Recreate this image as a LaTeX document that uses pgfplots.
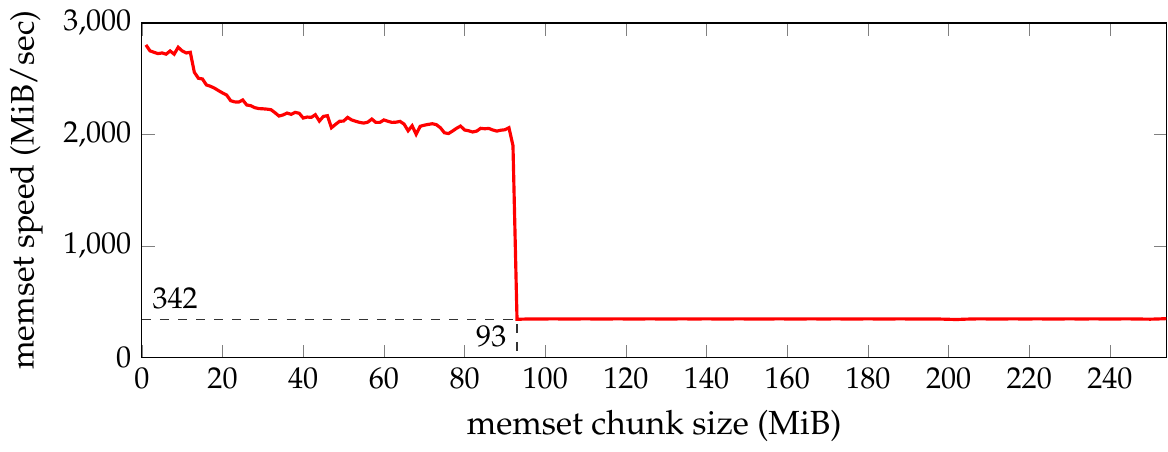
\documentclass[border=0pt]{standalone}
\usepackage[T1]{fontenc}
\usepackage{mathpazo}
\usepackage{pgfplots}
\pgfplotsset{compat=1.18}
\begin{document}
\begin{tikzpicture}
\begin{axis}[
  scale only axis,
  width=340pt, height=111pt,
  xmin=0, xmax=254, ymin=0, ymax=3000,
  xtick={0,20,...,240},
  ytick={0,1000,2000,3000},
  /pgf/number format/1000 sep={,},
  /pgf/number format/assume math mode=true,
  xlabel style={font=\fontsize{11.1}{13.3}\selectfont},
  ylabel style={font=\fontsize{10.8}{13}\selectfont},
  xlabel={memset chunk size (MiB)},
  ylabel={memset speed (MiB/sec)},
  tick style={gray},
  clip=false,
]
\addplot[red, line width=1.05pt] coordinates {
(1,2803)(2,2750)(3,2737)(4,2725)(5,2731)(6,2720)(7,2749)(8,2720)(9,2782)(10,2749)
(11,2731)(12,2737)(13,2558)(14,2504)(15,2498)(16,2444)(17,2432)(18,2415)(19,2393)(20,2372)
(21,2354)(22,2303)(23,2292)(24,2290)(25,2309)(26,2264)(27,2258)(28,2240)(29,2232)(30,2230)
(31,2227)(32,2222)(33,2195)(34,2165)(35,2175)(36,2192)(37,2180)(38,2198)(39,2190)(40,2147)
(41,2156)(42,2153)(43,2177)(44,2120)(45,2162)(46,2168)(47,2060)(48,2090)(49,2118)(50,2120)
(51,2153)(52,2130)(53,2118)(54,2108)(55,2102)(56,2110)(57,2138)(58,2108)(59,2108)(60,2130)
(61,2118)(62,2108)(63,2110)(64,2117)(65,2093)(66,2033)(67,2078)(68,2001)(69,2073)(70,2083)
(71,2090)(72,2096)(73,2088)(74,2060)(75,2015)(76,2008)(77,2030)(78,2055)(79,2075)(80,2040)
(81,2033)(82,2022)(83,2030)(84,2055)(85,2051)(86,2054)(87,2040)(88,2030)(89,2038)(90,2042)
(91,2060)(92,1900)(93,342)(94,343)(95,344)(96,344)(97,345)(98,345)(99,344)(100,345)
(102,346)(104,345)(106,344)(108,345)(110,346)(112,345)(114,344)(116,345)(118,346)(120,345)
(122,344)(124,345)(126,346)(128,345)(130,344)(132,345)(134,346)(136,345)(138,345)(140,346)
(142,345)(144,344)(146,345)(148,346)(150,345)(152,344)(154,345)(156,345)(158,346)(160,345)
(162,344)(164,345)(166,346)(168,345)(170,345)(172,346)(174,345)(176,344)(178,345)(180,346)
(182,345)(184,344)(186,345)(188,346)(190,345)(192,345)(194,344)(196,345)(198,344)(200,342)
(202,340)(204,343)(206,345)(208,346)(210,345)(212,344)(214,345)(216,346)(218,345)(220,345)
(222,346)(224,345)(226,344)(228,345)(230,346)(232,345)(234,345)(236,346)(238,345)(240,344)
(242,345)(244,346)(246,345)(248,344)(250,343)(252,345)(254,348)
};
\addplot[black!80, dashed, thin] coordinates {(0,342)(93,342)(93,0)};
\node[anchor=south west] at (axis cs:0,342) {342};
\node[anchor=south east] at (axis cs:93,0) {93};
\end{axis}
\end{tikzpicture}
\end{document}
